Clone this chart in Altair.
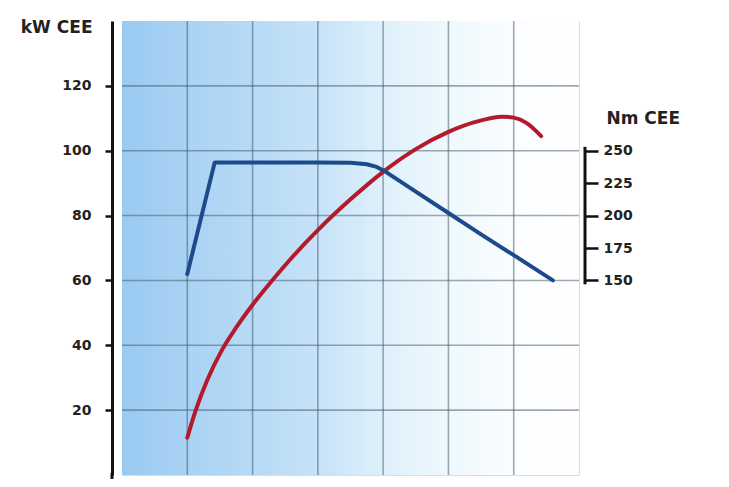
import altair as alt
import pandas as pd

# Power curve (kW CEE), x in thousands of rpm
power_rpm = [1.0, 1.13, 1.3, 1.53, 1.75, 2.0, 2.3, 2.6, 3.0, 3.5, 4.0, 4.5, 5.0, 5.4, 5.83, 6.0, 6.2, 6.42]
power_kw = [11.5, 20, 29, 38.5, 45.5, 52.5, 60, 67, 75.5, 85, 93.5, 100.5, 105.8, 108.8, 110.5, 110.2, 108.5, 104.5]

# Torque curve (Nm CEE)
torque_rpm = [1.0, 1.42, 2.0, 3.0, 3.5, 3.75, 3.9, 4.0, 4.15, 4.5, 5.0, 5.5, 6.0, 6.6]
torque_nm = [155, 241, 241, 241, 240.8, 239.6, 237.5, 235, 230, 218.5, 202, 185.5, 169.5, 150]

kw_ticks = [20, 40, 60, 80, 100, 120]
nm_ticks = [150, 175, 200, 225, 250]
rpm_ticks = [1, 2, 3, 4, 5, 6]
nm_axis_span = [147, 253]

power_df = pd.DataFrame({"rpm": power_rpm, "kW": power_kw})
torque_df = pd.DataFrame({"rpm": torque_rpm, "Nm": torque_nm})
span_df = pd.DataFrame({"Nm": [nm_axis_span[0]], "Nm2": [nm_axis_span[1]]})
vgrid_df = pd.DataFrame({"rpm": rpm_ticks})
hgrid_df = pd.DataFrame({"kW": kw_ticks})
bg_df = pd.DataFrame({"one": [1]})

W, H = 457, 454
FONT = "DejaVu Sans"
GRID = "#3e566c"

x_scale = alt.Scale(domain=[0, 7], nice=False, zero=False)
x_axis = alt.Axis(values=rpm_ticks, labels=False, title=None, offset=7,
                  domainColor="#111", domainWidth=2.5, tickColor="#111",
                  tickWidth=2, tickSize=5, grid=False)

kw_scale = alt.Scale(domain=[0, 140], nice=False, zero=False)
kw_axis = alt.Axis(values=kw_ticks, title="kW CEE", titleAngle=0, titleX=-20, titleY=6,
                   titleAlign="right", titleBaseline="middle", titleFont=FONT,
                   titleFontSize=17, titleFontWeight="bold", titleColor="#222",
                   offset=10, domainColor="#111", domainWidth=3, tickColor="#111",
                   tickWidth=2.5, tickSize=7, labelFont=FONT, labelFontSize=14,
                   labelFontWeight="bold", labelColor="#222", labelPadding=14, grid=False)

nm_scale = alt.Scale(domain=[0, 350], nice=False, zero=False)
nm_axis = alt.Axis(values=nm_ticks, orient="right", title="Nm CEE", titleAngle=0,
                   titleX=21, titleY=97, titleAlign="left", titleBaseline="middle",
                   titleFont=FONT, titleFontSize=17, titleFontWeight="bold",
                   titleColor="#222", offset=6, domain=False, tickColor="#111",
                   tickWidth=2.5, tickSize=13, labelFont=FONT, labelFontSize=14,
                   labelFontWeight="bold", labelColor="#222", labelPadding=5, grid=False)

bg = alt.Chart(bg_df).mark_rect(
    color=alt.LinearGradient(
        gradient="linear", x1=0, x2=1, y1=0, y2=0,
        stops=[
            alt.GradientStop(offset=0, color="#9acaf1"),
            alt.GradientStop(offset=0.43, color="#c6e2f8"),
            alt.GradientStop(offset=0.57, color="#def0fb"),
            alt.GradientStop(offset=0.71, color="#eef8fd"),
            alt.GradientStop(offset=0.86, color="#fbfdff"),
            alt.GradientStop(offset=1, color="#ffffff"),
        ],
    )
).encode(x=alt.value(0), x2=alt.value(W), y=alt.value(0), y2=alt.value(H))

vgrid = alt.Chart(vgrid_df).mark_rule(color=GRID, strokeWidth=1.6, opacity=0.5).encode(
    x=alt.X("rpm:Q", scale=x_scale, axis=x_axis),
    y=alt.value(0), y2=alt.value(H),
)
hgrid = alt.Chart(hgrid_df).mark_rule(color=GRID, strokeWidth=1.6, opacity=0.5).encode(
    y=alt.Y("kW:Q", scale=kw_scale, axis=kw_axis),
    x=alt.value(0), x2=alt.value(W),
)

# extension of the left axis line below the plot
left_ext = alt.Chart(bg_df).mark_rule(color="#111", strokeWidth=3).encode(
    x=alt.value(-10), y=alt.value(H - 2), y2=alt.value(H + 14),
)

power = alt.Chart(power_df).mark_line(
    color="#b31b2c", strokeWidth=4, interpolate="monotone", strokeCap="round"
).encode(
    x=alt.X("rpm:Q", scale=x_scale, axis=x_axis),
    y=alt.Y("kW:Q", scale=kw_scale, axis=kw_axis),
)

torque = alt.Chart(torque_df).mark_line(
    color="#1b4b8c", strokeWidth=4, strokeCap="round", strokeJoin="round"
).encode(
    x=alt.X("rpm:Q", scale=x_scale, axis=x_axis),
    y=alt.Y("Nm:Q", scale=nm_scale, axis=nm_axis),
)

nm_line = alt.Chart(span_df).mark_rule(color="#111", strokeWidth=3).encode(
    x=alt.value(W + 6),
    y=alt.Y("Nm:Q", scale=nm_scale, axis=nm_axis),
    y2="Nm2:Q",
)

chart = alt.layer(
    alt.layer(bg, vgrid, hgrid, left_ext, power),
    alt.layer(torque, nm_line),
).resolve_scale(y="independent").properties(
    width=W, height=H,
    autosize=alt.AutoSizeParams(type="none"),
    padding={"left": 114, "top": 13, "right": 140, "bottom": 4},
).configure_view(
    stroke="#7f909f", strokeWidth=1.5,
).configure(background="white")

chart.save("out.html", embed_options={"renderer": "svg", "actions": False})
